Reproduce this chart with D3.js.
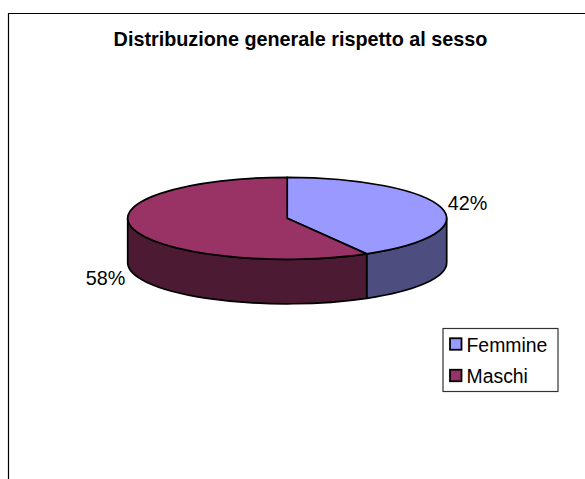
<!DOCTYPE html>
<html lang="en">
<head>
<meta charset="UTF-8">
<script src="https://d3js.org/d3.v7.min.js"></script>
<style>
  html, body { margin: 0; padding: 0; background: #fff; }
  svg { display: block; }
  text { font-family: "Liberation Sans", Arial, sans-serif; fill: #000; }
</style>
</head>
<body>
<div id="chart"></div>
<script>
var categories = ["Femmine", "Maschi"];
var values = [41.7, 58.3];
var topColors = ["#9999ff", "#993366"];
var sideColors = ["#4d4d80", "#4d1a33"];
var chartTitle = "Distribuzione generale rispetto al sesso";

var width = 585, height = 479;
var cx = 287.2, cy = 218.3, rx = 159.5, ry = 41, depth = 44.5;

var svg = d3.select("#chart").append("svg")
  .attr("width", width)
  .attr("height", height);

// only the left and top edges of the frame are inside the picture
svg.append("path")
  .attr("d", "M8.5,479V13.5H585")
  .attr("fill", "none")
  .attr("stroke", "#000")
  .attr("stroke-width", 1.2);

svg.append("text")
  .attr("x", 300.5).attr("y", 46)
  .attr("text-anchor", "middle")
  .attr("font-size", 19.8)
  .attr("font-weight", "bold")
  .text(chartTitle);

// angles from d3.pie, clockwise from 12 o'clock
var arcs = d3.pie().sort(null)(values);

function px(a) { return cx + rx * Math.sin(a); }
function py(a) { return cy - ry * Math.cos(a); }

function topPath(d) {
  var large = d.endAngle - d.startAngle > Math.PI ? 1 : 0;
  return "M" + cx + "," + cy + "L" + px(d.startAngle) + "," + py(d.startAngle) +
    "A" + rx + "," + ry + " 0 " + large + " 1 " + px(d.endAngle) + "," + py(d.endAngle) + "Z";
}

// visible wall = the part of the slice in the lower half (angles PI/2 .. 3PI/2)
function sidePath(d) {
  var a0 = Math.max(d.startAngle, Math.PI / 2);
  var a1 = Math.min(d.endAngle, 3 * Math.PI / 2);
  if (a1 <= a0) return "";
  return "M" + px(a0) + "," + py(a0) +
    "A" + rx + "," + ry + " 0 0 1 " + px(a1) + "," + py(a1) +
    "L" + px(a1) + "," + (py(a1) + depth) +
    "A" + rx + "," + ry + " 0 0 0 " + px(a0) + "," + (py(a0) + depth) + "Z";
}

svg.selectAll("path.side").data(arcs).enter().append("path")
  .attr("class", "side")
  .attr("d", sidePath)
  .attr("fill", function(d, i) { return sideColors[i]; })
  .attr("stroke", "#000")
  .attr("stroke-width", 1.7)
  .attr("stroke-linejoin", "round");

svg.selectAll("path.top").data(arcs).enter().append("path")
  .attr("class", "top")
  .attr("d", topPath)
  .attr("fill", function(d, i) { return topColors[i]; })
  .attr("stroke", "#000")
  .attr("stroke-width", 1.7)
  .attr("stroke-linejoin", "round");

var labelPos = [[467.5, 210], [105.5, 285]];
svg.selectAll("text.pct").data(values).enter().append("text")
  .attr("class", "pct")
  .attr("x", function(d, i) { return labelPos[i][0]; })
  .attr("y", function(d, i) { return labelPos[i][1]; })
  .attr("text-anchor", "middle")
  .attr("font-size", 19.8)
  .text(function(d) { return Math.round(d) + "%"; });

// legend
var legend = svg.append("g");
legend.append("rect")
  .attr("x", 443).attr("y", 328.5)
  .attr("width", 115).attr("height", 63)
  .attr("fill", "#fff")
  .attr("stroke", "#333")
  .attr("stroke-width", 1.2);

var legendY = d3.scalePoint().domain(categories).range([344, 375.5]);

legend.selectAll("rect.key").data(categories).enter().append("rect")
  .attr("class", "key")
  .attr("x", 450)
  .attr("y", function(d) { return legendY(d) - 5.75; })
  .attr("width", 11.5).attr("height", 11.5)
  .attr("fill", function(d, i) { return topColors[i]; })
  .attr("stroke", "#000")
  .attr("stroke-width", 1.8);

legend.selectAll("text.key").data(categories).enter().append("text")
  .attr("class", "key")
  .attr("x", 466.5)
  .attr("y", function(d) { return legendY(d) + 7.5; })
  .attr("font-size", 19.4)
  .text(function(d) { return d; });
</script>
</body>
</html>
